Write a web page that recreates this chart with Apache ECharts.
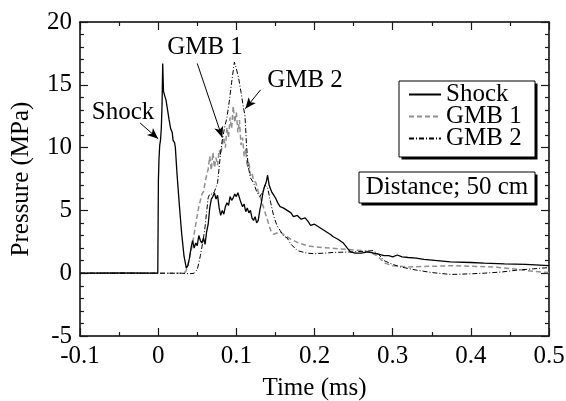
<!DOCTYPE html>
<html>
<head>
<meta charset="utf-8">
<script src="https://cdn.jsdelivr.net/npm/echarts@6/dist/echarts.min.js"></script>
<style>
html, body { margin: 0; padding: 0; background: #fff; }
#chart { width: 566px; height: 401px; }
</style>
</head>
<body>
<div id="chart"></div>
<script>
// Shock pressure trace (time in ms, pressure in MPa)
var shockT = [-0.1, -0.05, -0.0005, 0.0, 0.0003, 0.001, 0.002, 0.003, 0.004, 0.005, 0.0058, 0.0068, 0.008, 0.01, 0.012, 0.014, 0.016, 0.018, 0.019, 0.021, 0.022, 0.024, 0.027, 0.030, 0.033, 0.036, 0.038, 0.040, 0.042, 0.044, 0.046, 0.048, 0.050, 0.052, 0.054, 0.056, 0.058, 0.060, 0.062, 0.064, 0.066, 0.068, 0.070, 0.072, 0.074, 0.076, 0.078, 0.080, 0.082, 0.084, 0.086, 0.088, 0.090, 0.092, 0.094, 0.096, 0.098, 0.100, 0.102, 0.104, 0.106, 0.108, 0.110, 0.112, 0.114, 0.116, 0.118, 0.120, 0.122, 0.124, 0.126, 0.128, 0.130, 0.132, 0.134, 0.136, 0.138, 0.140, 0.142, 0.145, 0.148, 0.150, 0.153, 0.156, 0.160, 0.165, 0.170, 0.173, 0.178, 0.183, 0.188, 0.192, 0.195, 0.200, 0.205, 0.210, 0.215, 0.220, 0.224, 0.230, 0.237, 0.242, 0.246, 0.252, 0.260, 0.268, 0.276, 0.283, 0.289, 0.295, 0.300, 0.306, 0.312, 0.320, 0.330, 0.340, 0.357, 0.374, 0.400, 0.417, 0.443, 0.470, 0.500];
var shockP = [0, 0.02, 0, 0, 7.4, 9.0, 10.2, 10.6, 11.5, 13.5, 16.7, 14.5, 14.2, 13.8, 13.0, 12.2, 11.5, 11.2, 10.6, 10.4, 10.0, 8.0, 5.5, 3.2, 1.4, 0.4, 0.6, 1.2, 2.0, 2.6, 2.0, 2.4, 2.2, 3.0, 2.6, 2.4, 2.8, 2.3, 3.3, 3.9, 5.2, 5.9, 6.1, 6.4, 5.9, 6.2, 5.2, 4.6, 5.0, 4.7, 5.3, 5.6, 5.4, 6.1, 5.8, 6.0, 6.3, 6.1, 6.4, 6.0, 5.6, 5.3, 5.5, 4.9, 5.2, 4.8, 5.0, 4.4, 4.2, 4.5, 4.0, 4.2, 5.0, 5.6, 6.4, 6.9, 7.2, 7.8, 7.0, 6.5, 6.2, 6.0, 5.6, 5.3, 5.2, 5.0, 4.8, 4.5, 4.6, 4.3, 4.4, 4.1, 3.8, 3.9, 3.7, 3.5, 3.3, 3.1, 2.9, 2.7, 2.4, 2.0, 1.7, 1.6, 1.6, 1.7, 1.6, 1.5, 1.4, 1.4, 1.3, 1.45, 1.3, 1.25, 1.2, 1.1, 1.0, 0.9, 0.85, 0.8, 0.75, 0.7, 0.6];

// GMB 1 trace
var gmb1T = [-0.1, 0.030, 0.035, 0.038, 0.041, 0.044, 0.047, 0.050, 0.052, 0.054, 0.056, 0.058, 0.060, 0.062, 0.064, 0.066, 0.068, 0.070, 0.072, 0.074, 0.076, 0.078, 0.080, 0.082, 0.084, 0.086, 0.088, 0.090, 0.092, 0.094, 0.096, 0.098, 0.100, 0.102, 0.104, 0.106, 0.108, 0.110, 0.112, 0.114, 0.116, 0.118, 0.120, 0.122, 0.125, 0.128, 0.131, 0.134, 0.137, 0.140, 0.144, 0.148, 0.152, 0.156, 0.162, 0.170, 0.180, 0.190, 0.200, 0.220, 0.240, 0.260, 0.270, 0.280, 0.290, 0.300, 0.320, 0.350, 0.380, 0.400, 0.430, 0.460, 0.480, 0.500];
var gmb1P = [0, 0, 0.1, 0.6, 1.5, 2.3, 3.5, 4.6, 5.3, 5.8, 6.3, 6.5, 7.2, 7.8, 8.3, 9.3, 8.2, 9.6, 8.4, 9.2, 8.6, 9.8, 9.4, 10.2, 10.8, 10.0, 11.6, 10.8, 12.4, 11.5, 13.3, 12.0, 12.8, 11.2, 12.2, 10.2, 10.8, 9.3, 9.9, 8.4, 8.9, 7.8, 8.0, 7.4, 7.2, 6.5, 6.0, 5.4, 4.8, 4.2, 3.4, 3.1, 3.2, 3.3, 3.0, 2.7, 2.4, 2.2, 2.1, 2.0, 1.9, 1.8, 1.7, 1.4, 0.8, 0.6, 0.5, 0.55, 0.6, 0.55, 0.5, 0.3, 0.15, 0.05];

// GMB 2 trace
var gmb2T = [-0.1, 0.030, 0.040, 0.046, 0.050, 0.052, 0.054, 0.056, 0.058, 0.060, 0.062, 0.064, 0.066, 0.068, 0.070, 0.072, 0.074, 0.076, 0.078, 0.080, 0.082, 0.085, 0.088, 0.091, 0.094, 0.0975, 0.100, 0.103, 0.106, 0.109, 0.111, 0.113, 0.115, 0.118, 0.122, 0.126, 0.130, 0.133, 0.137, 0.140, 0.144, 0.148, 0.152, 0.156, 0.160, 0.165, 0.170, 0.178, 0.190, 0.200, 0.224, 0.250, 0.265, 0.275, 0.282, 0.289, 0.300, 0.310, 0.330, 0.350, 0.374, 0.400, 0.417, 0.440, 0.460, 0.480, 0.500];
var gmb2P = [0, 0, -0.05, 0, 0.3, 0.8, 1.4, 2.1, 2.8, 3.7, 4.9, 6.0, 6.3, 6.4, 6.3, 6.5, 6.6, 7.2, 8.4, 9.7, 10.6, 11.6, 12.4, 13.7, 15.2, 16.8, 16.3, 15.5, 14.4, 13.2, 12.6, 10.2, 8.6, 7.6, 7.2, 6.5, 6.1, 6.4, 7.0, 6.8, 5.6, 4.5, 3.8, 3.4, 3.0, 2.8, 2.3, 1.8, 1.6, 1.55, 1.65, 1.7, 1.75, 1.8, 1.5, 1.0, 0.7, 0.5, 0.25, 0.05, -0.1, -0.05, 0.0, 0.1, 0.25, 0.35, 0.45];

var xTicks = { min: -0.1, max: 0.5, interval: 0.1 };
var yTicks = { min: -5, max: 20, interval: 5 };

var FONT = 'Liberation Serif';
var TEXT_FONT = '25px "Liberation Serif"';
var TICK_COLOR = '#1a1a1a';

//把时间和压力两个数组合成点列
var fnPairs = function(t, p) {
	var out = [];
	for (var i = 0; i < t.length; i++) {
		out.push([t[i], p[i]]);
	}
	return out;
};

//四边坐标轴，刻度朝里
var fnAxis = function(pos, ticks, minorSplit, showLabel) {
	return {
		type: 'value',
		position: pos,
		min: ticks.min,
		max: ticks.max,
		interval: ticks.interval,
		splitLine: { show: false },
		axisLine: { show: true, onZero: false, lineStyle: { color: '#000', width: 1.5 } },
		axisTick: { show: true, inside: true, length: 8, lineStyle: { color: TICK_COLOR, width: 1.2 } },
		minorTick: { show: true, splitNumber: minorSplit, length: 4, lineStyle: { color: TICK_COLOR, width: 1.2 } },
		axisLabel: { show: showLabel, color: '#000', fontFamily: FONT, fontSize: 25 }
	};
};

var xBottom = fnAxis('bottom', xTicks, 2, true);
xBottom.axisLabel.margin = 8;
xBottom.axisLabel.formatter = function(v) {
	return v === 0 ? '0' : String(+v.toFixed(1));
};
xBottom.name = 'Time (ms)';
xBottom.nameLocation = 'middle';
xBottom.nameGap = 40;
xBottom.nameTextStyle = { color: '#000', fontFamily: FONT, fontSize: 25 };

var yLeft = fnAxis('left', yTicks, 5, true);
yLeft.axisLabel.margin = 8;
yLeft.name = 'Pressure (MPa)';
yLeft.nameLocation = 'middle';
yLeft.nameGap = 46;
yLeft.nameTextStyle = { color: '#000', fontFamily: FONT, fontSize: 25 };

var xTop = fnAxis('top', xTicks, 2, false);
var yRight = fnAxis('right', yTicks, 5, false);

var arrowStyle = { color: '#000', width: 1, type: 'solid' };

//带阴影的方框
var fnShadowBox = function(x, y, w, h, z) {
	return [
		{ type: 'rect', left: x + 3, top: y + 3, shape: { width: w, height: h }, style: { fill: '#000' }, z: z },
		{ type: 'rect', left: x, top: y, shape: { width: w, height: h }, style: { fill: '#fff', stroke: '#000', lineWidth: 1 }, z: z + 1 }
	];
};

var fnLabel = function(text, x, y) {
	return { type: 'text', x: x, y: y, z: 60, style: { text: text, fill: '#000', font: TEXT_FONT, textAlign: 'center', textVerticalAlign: 'middle' } };
};

var graphics = [].concat(
	fnShadowBox(398.5, 80.5, 136, 76, 10),
	fnShadowBox(358.5, 171.5, 176, 31, 50),
	[
		fnLabel('Distance; 50 cm', 447, 187),
		fnLabel('Shock', 123, 112),
		fnLabel('GMB 1', 205, 47),
		fnLabel('GMB 2', 305, 80)
	]
);

var option = {
	backgroundColor: '#fff',
	animation: false,
	grid: { left: 80, right: 17, top: 22, bottom: 65, containLabel: false, outerBoundsMode: 'none' },
	xAxis: [xBottom, xTop],
	yAxis: [yLeft, yRight],
	legend: {
		data: ['Shock', 'GMB 1', 'GMB 2'],
		orient: 'vertical',
		left: 408,
		top: 82,
		padding: 0,
		itemGap: -3,
		itemWidth: 32,
		itemHeight: 10,
		z: 20,
		itemStyle: { opacity: 0 },
		textStyle: { color: '#000', fontFamily: FONT, fontSize: 25 }
	},
	graphic: graphics,
	series: [
		{
			name: 'GMB 1',
			type: 'line',
			symbol: 'none',
			data: fnPairs(gmb1T, gmb1P),
			lineStyle: { color: '#8f8f8f', width: 1.5, type: [5, 3] },
			itemStyle: { color: '#8f8f8f' },
			z: 2
		},
		{
			name: 'GMB 2',
			type: 'line',
			symbol: 'none',
			data: fnPairs(gmb2T, gmb2P),
			lineStyle: { color: '#000', width: 1, type: [5, 2, 1, 2] },
			itemStyle: { color: '#000' },
			z: 3
		},
		{
			name: 'Shock',
			type: 'line',
			symbol: 'none',
			data: fnPairs(shockT, shockP),
			lineStyle: { color: '#000', width: 1.3 },
			itemStyle: { color: '#000' },
			z: 4,
			//注释箭头
			markLine: {
				silent: true,
				animation: false,
				symbol: ['none', 'arrow'],
				symbolSize: [7, 11],
				label: { show: false },
				lineStyle: arrowStyle,
				data: [
					[{ coord: [-0.023, 11.95] }, { coord: [0.0, 10.7] }],
					[{ coord: [0.05, 16.7] }, { coord: [0.082, 10.8] }],
					[{ coord: [0.131, 14.6] }, { coord: [0.1115, 13.1] }]
				]
			}
		}
	]
};

var myChart = echarts.init(document.getElementById('chart'), null, { renderer: 'canvas' });
myChart.setOption(option);
</script>
</body>
</html>
